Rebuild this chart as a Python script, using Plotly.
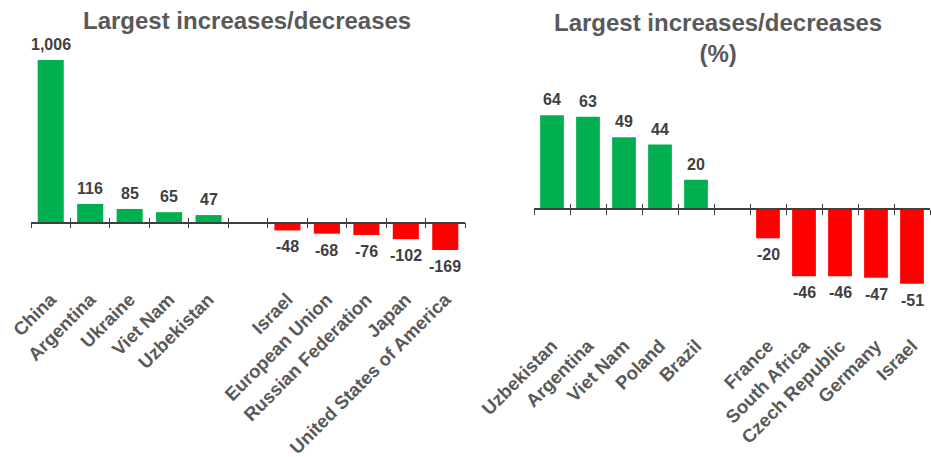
import plotly.graph_objects as go

# ---- data ----
left_categories = ["China", "Argentina", "Ukraine", "Viet Nam", "Uzbekistan", " ",
                   "Israel", "European Union", "Russian Federation", "Japan",
                   "United States of America"]
left_values = [1006, 116, 85, 65, 47, None, -48, -68, -76, -102, -169]

right_categories = ["Uzbekistan", "Argentina", "Viet Nam", "Poland", "Brazil", " ",
                    "France", "South Africa", "Czech Republic", "Germany", "Israel"]
right_values = [64, 63, 49, 44, 20, None, -20, -46, -46, -47, -51]

left_title = "Largest increases/decreases"
right_title = "Largest increases/decreases<br>(%)"

GREEN = "#00B050"
RED = "#FF0000"
FONT = "Liberation Sans, Arial, sans-serif"
W, H = 931, 457


def colors(vals):
    return [GREEN if (v is not None and v >= 0) else RED for v in vals]


fig = go.Figure()

fig.add_trace(go.Bar(x=left_categories, y=left_values, marker_color=colors(left_values),
                     marker_line_width=0, xaxis="x", yaxis="y", hoverinfo="x+y"))
fig.add_trace(go.Bar(x=right_categories, y=right_values, marker_color=colors(right_values),
                     marker_line_width=0, xaxis="x2", yaxis="y2", hoverinfo="x+y"))
# invisible traces to drive the overlay axes (upward tick halves)
fig.add_trace(go.Scatter(x=left_categories, y=[0] * len(left_categories), mode="markers",
                         marker=dict(opacity=0), xaxis="x3", yaxis="y", hoverinfo="skip"))
fig.add_trace(go.Scatter(x=right_categories, y=[0] * len(right_categories), mode="markers",
                         marker=dict(opacity=0), xaxis="x4", yaxis="y2", hoverinfo="skip"))

annotations = []
for cats, vals, xr, yr in [(left_categories, left_values, "x", "y"),
                           (right_categories, right_values, "x2", "y2")]:
    for c, v in zip(cats, vals):
        if v is None:
            continue
        annotations.append(dict(
            x=c, y=v, xref=xr, yref=yr, text=f"{v:,}", showarrow=False,
            yanchor="bottom" if v >= 0 else "top", yshift=5 if v >= 0 else -6,
            font=dict(family=FONT, size=16, color="#404040", weight="bold")))

annotations.append(dict(x=247 / W, y=1 - 20 / H, xref="paper", yref="paper",
                        text=left_title, showarrow=False, xanchor="center", yanchor="middle",
                        font=dict(family=FONT, size=24, color="#595959", weight="bold")))
annotations.append(dict(x=718 / W, y=1 - 38 / H, xref="paper", yref="paper",
                        text=right_title, showarrow=False, xanchor="center", yanchor="middle",
                        font=dict(family=FONT, size=24, color="#595959", weight="bold")))

left_zero = 1 - 222.7 / H
right_zero = 1 - 209 / H
left_dom = [31 / W, 465 / W]
right_dom = [534 / W, 930 / W]

tickfont = dict(family=FONT, size=18.5, color="#595959", weight="bold")
common = dict(type="category", showline=True, linecolor="#404040", linewidth=1.5,
              ticks="outside", ticklen=5, tickwidth=1.2, tickcolor="#404040",
              tickson="boundaries", showgrid=False, zeroline=False,
              tickangle=-45, tickfont=tickfont, automargin=False,
              range=[-0.5, 10.5], fixedrange=True)
overlay = dict(type="category", showline=False, ticks="inside", ticklen=5, tickwidth=1.2,
               tickcolor="#404040", tickson="boundaries", showgrid=False, zeroline=False,
               showticklabels=False, automargin=False, range=[-0.5, 10.5])

fig.update_layout(
    width=W, height=H,
    margin=dict(l=0, r=0, t=0, b=0),
    paper_bgcolor="white", plot_bgcolor="rgba(0,0,0,0)",
    showlegend=False, bargap=0.34,
    xaxis=dict(domain=left_dom, anchor="free", position=left_zero,
               ticklabelstandoff=58, categoryorder="array",
               categoryarray=left_categories, **common),
    xaxis2=dict(domain=right_dom, anchor="free", position=right_zero,
                ticklabelstandoff=118, categoryorder="array",
                categoryarray=right_categories, **common),
    xaxis3=dict(domain=left_dom, anchor="free", position=left_zero, overlaying="x",
                categoryorder="array", categoryarray=left_categories, **overlay),
    xaxis4=dict(domain=right_dom, anchor="free", position=right_zero, overlaying="x2",
                categoryorder="array", categoryarray=right_categories, **overlay),
    yaxis=dict(domain=[0, 1], range=[-1449, 1377], visible=False, fixedrange=True),
    yaxis2=dict(domain=[0, 1], range=[-169.4, 142.8], visible=False, fixedrange=True),
    annotations=annotations,
)

fig.write_html("out.html", config={"displayModeBar": False},
               post_script="document.body.style.margin='0px';document.body.style.overflow='hidden';")
